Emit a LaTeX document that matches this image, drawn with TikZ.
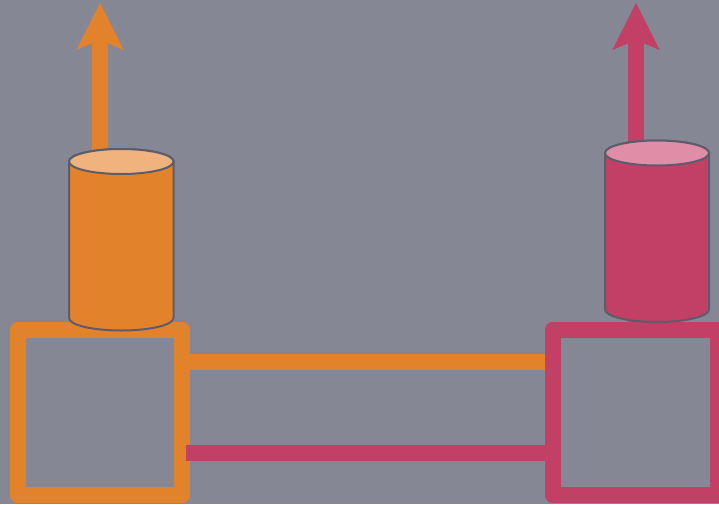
\documentclass[tikz,border=0pt]{standalone}
\usetikzlibrary{arrows.meta}
\definecolor{bgc}{HTML}{858794}
\definecolor{orangec}{HTML}{E2822B}
\definecolor{pinkc}{HTML}{C24066}
\definecolor{orangel}{HTML}{F0B37E}
\definecolor{pinkl}{HTML}{E08DA8}
\definecolor{edgec}{HTML}{5C5C6C}
\tikzset{
  unitbox/.style={draw=#1,rectangle,inner sep=0pt,line width=16pt,line join=round,minimum width=164.5pt,minimum height=165pt},
  link/.style={draw=#1,line width=16pt},
  uparrow/.style={draw=#1,fill=#1,line width=16pt,-{Stealth[length=47pt,width=47.5pt,inset=10pt,line width=0pt]}},
  cylbody/.style={draw=edgec,fill=#1,line width=2pt},
  cyltop/.style={draw=edgec,fill=#1,line width=2pt}
}
\begin{document}
\begin{tikzpicture}[x=1pt,y=-1pt]
\useasboundingbox (0,0) rectangle (719,504);
\clip (0,0) rectangle (719,504);
\fill[bgc] (0,0) rectangle (719,504);
% free ends
\coordinate (otip) at (100,3);
\coordinate (ptip) at (636,3);
\coordinate (pstart) at (186,453.2);
% units
\node[unitbox=orangec] (oBox) at (100.1,412.4) {};
\node[unitbox=pinkc] (pBox) at (635.6,412.4) {};
% arrows
\draw[uparrow=orangec] (oBox.north -| otip) -- (otip);
\draw[uparrow=pinkc] (pBox.north -| ptip) -- (ptip);
% links
\draw[link=orangec] (oBox.east |- 0,362.2) -- (pBox.west |- 0,362.2);
\draw[link=pinkc] (pstart) -- (pBox.west |- pstart);
% re-stroke the pink box so that the orange link stops at its edge
\node[unitbox=pinkc] (pBoxTop) at (pBox) {};
% cylinders
\path[cylbody=orangec] (69,161.5) -- (69,318) arc[start angle=180,end angle=360,x radius=52.25,y radius=-12.5] -- (173.5,161.5) arc[start angle=0,end angle=180,x radius=52.25,y radius=-12.5] -- cycle;
\path[cyltop=orangel] (121.25,161.5) ellipse[x radius=52.25,y radius=12.5];
\path[cylbody=pinkc] (605,153) -- (605,309.5) arc[start angle=180,end angle=360,x radius=52,y radius=-12.5] -- (709,153) arc[start angle=0,end angle=180,x radius=52,y radius=-12.5] -- cycle;
\path[cyltop=pinkl] (657,153) ellipse[x radius=52,y radius=12.5];
\end{tikzpicture}
\end{document}
